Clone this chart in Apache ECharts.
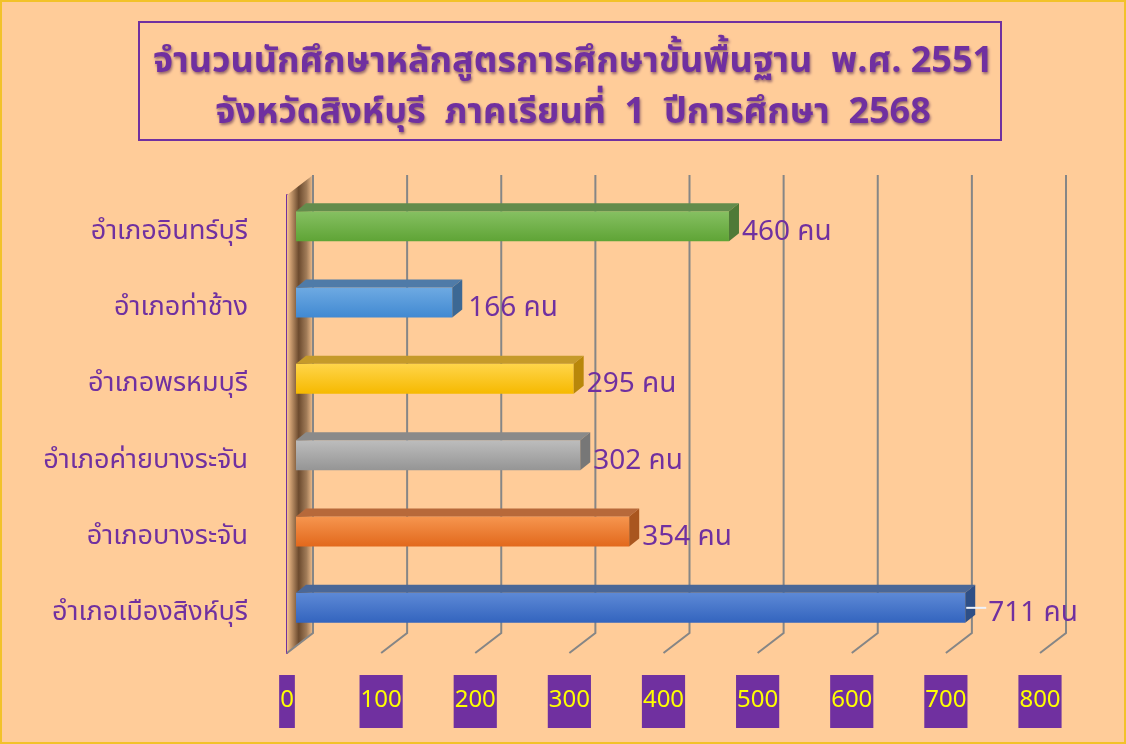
<!DOCTYPE html>
<html>
<head>
<meta charset="utf-8">
<script src="https://cdn.jsdelivr.net/npm/echarts@6/dist/echarts.min.js"></script>
<style>
	html, body { margin: 0; padding: 0; background: #ffcc99; }
	#chart { width: 1126px; height: 744px; }
</style>
</head>
<body>
<div id="chart"></div>
<script>
// ข้อมูลจากภาพ (บนลงล่าง)
const districts = ['อำเภออินทร์บุรี', 'อำเภอท่าช้าง', 'อำเภอพรหมบุรี', 'อำเภอค่ายบางระจัน', 'อำเภอบางระจัน', 'อำเภอเมืองสิงห์บุรี']
const students = [460, 166, 295, 302, 354, 711]
const ticks = [0, 100, 200, 300, 400, 500, 600, 700, 800]
const unit = 'คน'

const thaiFont = "'Noto Sans Thai', 'Noto Sans Thai UI', 'Noto Sans', sans-serif"
const purple = '#7030a0'

// สีแท่ง: หน้า (บน, ล่าง), ด้านบน, ด้านข้าง
const barColors = [
	['#86c062', '#5fa436', '#638c4c', '#4f7a37'],
	['#6eaae2', '#4189d2', '#4f7ba8', '#3c6894'],
	['#ffd54a', '#f6b900', '#c59a2a', '#b8870a'],
	['#bdbdbd', '#959595', '#8a8a8a', '#777777'],
	['#f6964f', '#e2681c', '#b7693a', '#a9561f'],
	['#5d89d6', '#3364be', '#4a6797', '#2e4f86'],
]
const labelGap = [3, 6, 3, 3, 3, 13]

const chartDom = document.getElementById('chart')
const myChart = echarts.init(chartDom)

const DEPTH_X = 26
const DEPTH_Y = -20

const renderGrid = (params, api) => {
	const cs = params.coordSys
	const x = api.coord([api.value(0), 0])[0]
	const yTop = cs.y
	const yBot = cs.y + cs.height
	const children = []
	if (api.value(0) === 0) {
		// ผนังด้านซ้าย
		children.push({
			type: 'polygon',
			shape: { points: [[x, yTop], [x + DEPTH_X, yTop + DEPTH_Y], [x + DEPTH_X, yBot + DEPTH_Y], [x, yBot]] },
			style: {
				fill: new echarts.graphic.LinearGradient(0, 0, 1, 0, [
					{ offset: 0, color: '#f6c28e' },
					{ offset: 0.45, color: '#6b4a2e' },
					{ offset: 0.75, color: '#a07b58' },
					{ offset: 1, color: '#f3c18f' },
				]),
			},
		})
	}
	children.push({
		type: 'polyline',
		shape: { points: [[x + DEPTH_X, yTop + DEPTH_Y], [x + DEPTH_X, yBot + DEPTH_Y], [x, yBot]] },
		style: { stroke: '#868686', lineWidth: 2, fill: null },
	})
	return { type: 'group', children: children }
}

const renderBar = (params, api) => {
	const idx = params.dataIndex
	const val = api.value(0)
	const cat = api.value(1)
	const start = api.coord([0, cat])
	const end = api.coord([val, cat])
	const c = barColors[idx]
	const ox = 9, oy = -7
	const h = 30
	const dx = 10, dy = -8
	const x0 = start[0] + ox
	const x1 = end[0] + ox
	const y0 = start[1] + oy - h / 2
	const y1 = y0 + h
	const children = [
		{
			type: 'rect',
			shape: { x: x0, y: y0, width: x1 - x0, height: h },
			style: { fill: new echarts.graphic.LinearGradient(0, 0, 0, 1, [{ offset: 0, color: c[0] }, { offset: 1, color: c[1] }]) },
		},
		{
			type: 'polygon',
			shape: { points: [[x0, y0], [x0 + dx, y0 + dy], [x1 + dx, y0 + dy], [x1, y0]] },
			style: { fill: c[2] },
		},
		{
			type: 'polygon',
			shape: { points: [[x1, y0], [x1 + dx, y0 + dy], [x1 + dx, y1 + dy], [x1, y1]] },
			style: { fill: c[3] },
		},
	]
	const lx = x1 + dx + labelGap[idx]
	if (labelGap[idx] > 8) {
		children.push({
			type: 'line',
			shape: { x1: x1 + 1, y1: y0 + h / 2, x2: lx - 2, y2: y0 + h / 2 },
			style: { stroke: '#eef2fa', lineWidth: 2 },
		})
	}
	children.push({
		type: 'text',
		x: lx,
		y: y0 + h / 2 + 8,
		style: {
			text: val + ' ' + unit,
			fill: purple,
			font: '28px ' + thaiFont,
			verticalAlign: 'middle',
			align: 'left',
		},
	})
	return { type: 'group', children: children }
}

const option = {
	backgroundColor: '#ffcc99',
	animation: false,
	title: {
		text: 'จำนวนนักศึกษาหลักสูตรการศึกษาขั้นพื้นฐาน  พ.ศ. 2551\nจังหวัดสิงห์บุรี  ภาคเรียนที่  1  ปีการศึกษา  2568',
		left: 568,
		textAlign: 'center',
		top: 34,
		textStyle: {
			fontFamily: thaiFont,
			fontSize: 36,
			fontWeight: 'bold',
			color: purple,
			lineHeight: 51,
			textShadowColor: 'rgba(40,0,60,0.5)',
			textShadowBlur: 3,
			textShadowOffsetX: 1,
			textShadowOffsetY: 2,
			align: 'center',
		},
	},
	graphic: [
		{
			type: 'rect',
			shape: { x: 1, y: 1, width: 1124, height: 742 },
			style: { fill: null, stroke: '#f2c22a', lineWidth: 2 },
			silent: true,
		},
		{
			type: 'rect',
			shape: { x: 139, y: 22, width: 862, height: 118 },
			style: { fill: null, stroke: purple, lineWidth: 2 },
			silent: true,
		},
	],
	grid: {
		left: 287,
		right: 86,
		top: 195,
		bottom: 91,
	},
	xAxis: {
		type: 'value',
		min: 0,
		max: 800,
		interval: 100,
		splitLine: { show: false },
		axisLine: { show: false },
		axisTick: { show: false },
		axisLabel: {
			margin: 22,
			color: '#ffff00',
			fontSize: 24,
			fontFamily: thaiFont,
			backgroundColor: purple,
			padding: [14, 1, 13, 1],
			lineHeight: 26,
		},
	},
	yAxis: {
		type: 'category',
		inverse: true,
		data: districts,
		axisLine: { show: true, lineStyle: { color: purple, width: 2 } },
		axisTick: { show: false },
		axisLabel: {
			margin: 39,
			color: purple,
			fontSize: 27,
			fontFamily: thaiFont,
			padding: [6, 0, 0, 0],
		},
	},
	series: [
		{
			type: 'custom',
			name: 'grid',
			silent: true,
			z: 1,
			renderItem: renderGrid,
			encode: { x: 0 },
			data: ticks.map((t) => [t, 0]),
		},
		{
			type: 'custom',
			name: 'นักศึกษา',
			z: 3,
			renderItem: renderBar,
			encode: { x: 0, y: 1 },
			data: students.map((v, i) => [v, i]),
		},
	],
}

myChart.setOption(option)
</script>
</body>
</html>
